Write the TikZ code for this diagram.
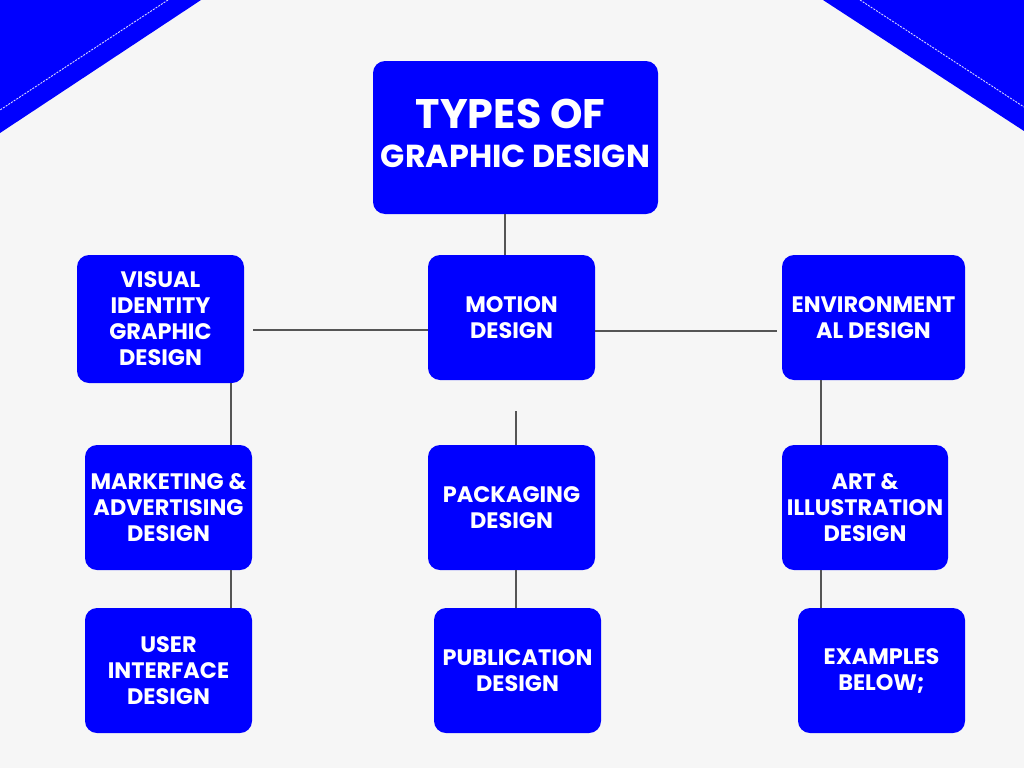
\documentclass[tikz,border=0pt]{standalone}
\usepackage{fontspec}
\setmainfont{Poppins}
\definecolor{bg}{HTML}{F6F6F6}
\definecolor{bl}{HTML}{0000FF}
\definecolor{ln}{HTML}{555555}
\tikzset{
  box/.style={fill=bl, rounded corners=12pt, inner sep=0pt, text=white, align=center,
    font=\fontsize{22.4}{26}\selectfont\bfseries},
  conn/.style={draw=ln, line width=1.4pt},
  deco/.style={white!85!bl, line width=0.9pt, dash pattern=on 2pt off 1.2pt}
}
\begin{document}
\begin{tikzpicture}[x=1pt,y=-1pt]
\fill[bg] (0,0) rectangle (1024,768);
\useasboundingbox (0,0) rectangle (1024,768);
% corners
\fill[bl] (0,0) -- (201,0) -- (0,133) -- cycle;
\draw[deco] (168,0) -- (0,110);
\fill[bl] (823,0) -- (1024,0) -- (1024,131) -- cycle;
\draw[deco] (860,0) -- (1024,107);
% boxes
\node[box, minimum width=285pt, minimum height=153pt] (title) at (515.5,137.5) {};
\node[text=white, font=\fontsize{41.3}{41}\selectfont\bfseries, anchor=base, inner sep=0pt] (t1) at (510.5,128) {TYPES OF};
\node[text=white, font=\fontsize{31.8}{32}\selectfont\bfseries, anchor=base, inner sep=0pt] (t2) at (515.5,167) {GRAPHIC DESIGN};
\node[box, minimum width=167pt, minimum height=128pt] (vis) at (160.5,319) {VISUAL\\IDENTITY\\GRAPHIC\\DESIGN};
\node[box, minimum width=167pt, minimum height=125pt] (mot) at (511.5,317.5) {MOTION\\DESIGN};
\node[box, minimum width=183pt, minimum height=125pt] (env) at (873.5,317.5) {ENVIRONMENT\\AL DESIGN};
\node[box, minimum width=167pt, minimum height=125pt] (mkt) at (168.5,507.5) {MARKETING \&\\ADVERTISING\\DESIGN};
\node[box, minimum width=167pt, minimum height=125pt] (pkg) at (511.5,507.5) {PACKAGING\\DESIGN};
\node[box, minimum width=166pt, minimum height=125pt] (art) at (865,507.5) {ART \&\\ILLUSTRATION\\DESIGN};
\node[box, minimum width=167pt, minimum height=125pt] (ui) at (168.5,670.5) {USER\\INTERFACE\\DESIGN};
\node[box, minimum width=167pt, minimum height=125pt] (pub) at (517.5,670.5) {PUBLICATION\\DESIGN};
\node[box, minimum width=167pt, minimum height=125pt] (ex) at (881.5,670.5) {EXAMPLES\\BELOW;};
% connector helper coordinates
\coordinate (x505) at (505,0);
\coordinate (hl) at (253,330);
\coordinate (hr) at (777,331);
\coordinate (mb) at (516,411);
\coordinate (x231) at (231,0);
\coordinate (x516) at (516,0);
\coordinate (x821) at (821,0);
% connectors
\draw[conn] (title.south -| x505) -- (mot.north -| x505);
\draw[conn] (hl) -- (hl -| mot.west);
\draw[conn] (mot.east |- hr) -- (hr);
\draw[conn] (mb) -- (pkg.north -| mb);
\draw[conn] (vis.south -| x231) -- (mkt.north -| x231);
\draw[conn] (mkt.south -| x231) -- (ui.north -| x231);
\draw[conn] (pkg.south -| x516) -- (pub.north -| x516);
\draw[conn] (env.south -| x821) -- (art.north -| x821);
\draw[conn] (art.south -| x821) -- (ex.north -| x821);
\end{tikzpicture}
\end{document}
